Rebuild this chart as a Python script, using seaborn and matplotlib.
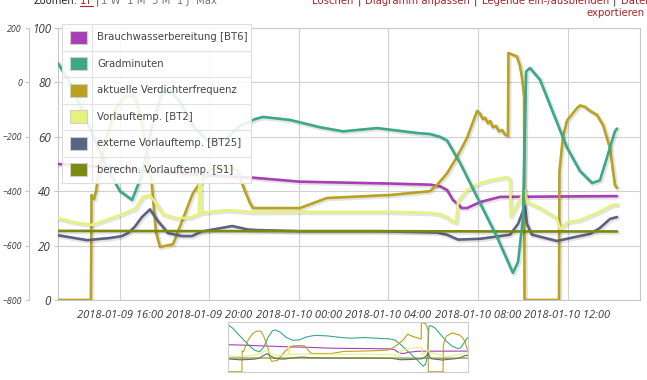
import matplotlib
matplotlib.use("Agg")
import matplotlib.pyplot as plt
import matplotlib.dates as mdates
import matplotlib.patheffects as pe
from matplotlib.patches import Rectangle
import numpy as np
import pandas as pd
import seaborn as sns

# ---------------- data (hours after 2018-01-09 16:00) ----------------
BASE = pd.Timestamp("2018-01-09 16:00")

names = ["Brauchwasserbereitung [BT6]", "Gradminuten", "aktuelle Verdichterfrequenz",
         "Vorlauftemp. [BT2]", "externe Vorlauftemp. [BT25]", "berechn. Vorlauftemp. [S1]"]
colors = ["#a83fb4", "#3aa889", "#b9a21f", "#e6f37a", "#5b6282", "#7a8a12"]

bt6_h = [-2.77, -0.89, 1.34, 3.58, 5.90, 8.04, 12.07, 13.86, 14.30, 14.62, 14.88, 15.28,
         15.51, 16.09, 16.98, 22.21]
bt6_v = [50, 49, 47.5, 46, 45, 43.5, 42.8, 42.4, 41.8, 40.4, 36.8, 33.8, 33.8, 36, 37.9, 38.2]

grad_h = [-2.77, -2.23, -1.34, -0.54, 0.00, 0.54, 0.98, 1.43, 1.88, 2.23, 2.68, 3.35, 4.02,
          4.69, 5.36, 6.03, 6.39, 7.60, 8.94, 9.97, 11.49, 13.27, 13.86, 14.30, 14.62, 15.20,
          16.09, 16.85, 17.56, 17.79, 18.01, 18.15, 18.32, 18.77, 19.98, 20.56, 21.10, 21.45,
          22.12, 22.21]
grad_v = [70, 0, -170, -320, -400, -432, -340, -160, -40, -30, -70, -170, -220,
          -210, -160, -135, -127, -138, -165, -180, -168, -186, -190, -200, -214, -296,
          -443, -568, -700, -660, -500, 40, 53, 10, -240, -326, -370, -360,
          -180, -170]

freq_h = [-2.77, -1.30, -1.27, -1.16, -1.07, -0.98, -0.67, -0.22, 0.22, 0.67, 0.98, 1.34,
          1.43, 1.61, 1.79, 2.37, 2.82, 3.26, 3.58, 4.02, 4.83, 5.23, 5.59, 5.81, 5.94, 8.04,
          9.25, 12.07, 13.85, 14.17, 14.61, 15.06, 15.51, 15.96, 16.09, 16.22, 16.31, 16.45,
          16.54, 16.67, 16.80, 16.94, 17.07, 17.21, 17.34, 17.36, 17.74, 17.88, 17.97, 18.06,
          18.08, 19.62, 19.64, 19.80, 19.98, 20.43, 20.56, 20.78, 21.01, 21.32, 21.59, 21.90,
          22.12, 22.21]
freq_v = [0, 0, 38.6, 37, 40, 45, 58, 70, 75, 75, 65, 47,
          42, 25, 19.5, 20.5, 30, 39.3, 43, 48, 48.5, 47.8, 40, 35.7, 33.8, 33.8,
          37.5, 38.6, 40, 42.3, 46.5, 52.6, 59.6, 69.5, 68.5, 66.5, 67, 65,
          65.8, 63.5, 64, 62, 62.5, 60.8, 60.3, 90.8, 89.5, 86, 81.6, 75,
          0, 0, 47.4, 60, 66, 70.6, 71.5, 71, 69.5, 68, 64.3, 55.9,
          42.3, 41.2]

bt2_h = [-2.77, -2.01, -1.25, 0.00, 0.67, 1.03, 1.34, 1.65, 1.92, 2.55, 3.13, 3.53, 3.55,
         3.60, 3.62, 4.16, 4.78, 5.94, 8.04, 12.07, 13.85, 14.30, 14.61, 14.84, 15.02, 15.11,
         15.51, 16.09, 16.54, 17.30, 17.43, 17.47, 18.10, 18.19, 18.77, 19.53, 19.66, 19.98,
         20.56, 21.32, 22.03, 22.21]
bt2_v = [30, 28.5, 27.6, 31.2, 33.5, 37.9, 38.6, 35, 31.5, 30, 30.3, 31.5, 47,
         47, 32, 32.5, 33, 32.3, 32.4, 32.4, 32, 31.5, 30.4, 29, 28.5, 36.4,
         40.4, 43, 44, 45.2, 44.2, 30.8, 40.4, 36, 33.8, 30, 26, 28.5,
         29.4, 32, 35, 35]

bt25_h = [-2.77, -1.47, -0.45, 0.09, 0.36, 0.67, 0.98, 1.34, 1.70, 2.15, 2.77, 3.22, 3.66,
          4.56, 5.01, 5.72, 6.12, 8.04, 11.62, 14.17, 14.61, 15.11, 16.09, 17.43, 17.79, 18.10,
          18.19, 18.41, 19.53, 20.25, 21.01, 21.45, 21.90, 22.21]
bt25_v = [23.8, 22, 22.8, 23.5, 24.6, 27, 30.5, 33.3, 29, 24.6, 23.5, 23.5, 25.2,
          26.5, 27.2, 25.9, 25.7, 25.3, 25.3, 24.8, 24, 22.2, 22.5, 24, 28, 34.5,
          28, 24, 21.7, 23, 24.3, 26.5, 29.8, 30.5]

s1_h = [-2.77, 5.0, 12.0, 18.0, 22.21]
s1_v = [25.4, 25.3, 25.3, 25.2, 25.2]

y_ticks = [0, 20, 40, 60, 80, 100]
grad_ticks = [-800, -600, -400, -200, 0, 200]
x_start_h, x_end_h = -2.77, 23.24


def frame(h, v, name):
    return pd.DataFrame({"time": BASE + pd.to_timedelta(h, unit="h"), "value": v, "series": name})


series = [frame(bt6_h, bt6_v, names[0]), frame(grad_h, grad_v, names[1]),
          frame(freq_h, freq_v, names[2]), frame(bt2_h, bt2_v, names[3]),
          frame(bt25_h, bt25_v, names[4]), frame(s1_h, s1_v, names[5])]

# ---------------- style ----------------
sns.set_theme(style="white")
plt.rcParams["font.family"] = ["Open Sans", "DejaVu Sans"]

W, H = 647, 380
fig = plt.figure(figsize=(W / 100, H / 100), dpi=100)
fig.patch.set_facecolor("white")

L, R, T, B = 58, 640, 28, 300
ax = fig.add_axes([L / W, 1 - B / H, (R - L) / W, (B - T) / H])
ax2 = ax.twinx()

shadow = [pe.SimpleLineShadow(offset=(0.8, -0.8), alpha=0.12, linewidth=3.2), pe.Normal()]

for i, df in enumerate(series):
    target = ax2 if i == 1 else ax
    sns.lineplot(data=df, x="time", y="value", ax=target, color=colors[i], lw=1.9,
                 estimator=None, sort=False, legend=False, path_effects=shadow, zorder=3 + i)

ax.set_ylim(0, 100)
ax2.set_ylim(-800, 200)
ax.set_xlim(BASE + pd.Timedelta(hours=x_start_h), BASE + pd.Timedelta(hours=x_end_h))
ax.set_yticks(y_ticks)
ax2.set_yticks(grad_ticks)
ax.set_xlabel("")
ax.set_ylabel("")
ax2.set_ylabel("")

ax.xaxis.set_major_locator(mdates.HourLocator(byhour=range(0, 24, 4)))
ax.xaxis.set_major_formatter(mdates.DateFormatter("%Y-%m-%d %H:%M"))

ax.grid(True, color="#d0d0d0", lw=0.8)
for sp in ax.spines.values():
    sp.set_color("#c8c8c8")
    sp.set_linewidth(0.8)
for sp in ax2.spines.values():
    sp.set_visible(False)

ax.tick_params(axis="x", length=0, pad=7, labelsize=8.05, labelcolor="#3a3a3a")
ax.tick_params(axis="y", length=3, width=0.8, color="#c8c8c8", pad=2, labelsize=8.4,
               labelcolor="#3a3a3a", left=True)
for lab in ax.get_xticklabels() + ax.get_yticklabels():
    lab.set_fontstyle("italic")

ax2.yaxis.set_ticks_position("left")
ax2.yaxis.set_label_position("left")
ax2.spines["left"].set_visible(True)
ax2.spines["left"].set_position(("outward", 29 * 72 / 100))
ax2.spines["left"].set_color("#c8c8c8")
ax2.spines["left"].set_linewidth(0.8)
ax2.tick_params(axis="y", length=3, width=0.8, color="#c8c8c8", pad=2, labelsize=6.3,
                labelcolor="#3a3a3a", left=True, right=False, labelleft=True, labelright=False)
for lab in ax2.get_yticklabels():
    lab.set_fontstyle("italic")

# ---------------- navigator ----------------
nav = fig.add_axes([228 / W, 1 - 372 / H, 240 / W, 50 / H])
for i, df in enumerate(series):
    d = df.copy()
    if i == 1:
        d["value"] = (d["value"] - grad_ticks[0]) / (grad_ticks[-1] - grad_ticks[0]) * 100
    sns.lineplot(data=d, x="time", y="value", ax=nav, color=colors[i], lw=0.8,
                 estimator=None, sort=False, legend=False)
nav.set_xlim(BASE + pd.Timedelta(hours=x_start_h + 0.02), BASE + pd.Timedelta(hours=22.21))
nav.set_ylim(-0.5, 92)
nav.set_xticks([])
nav.set_yticks([])
nav.set_xlabel("")
nav.set_ylabel("")
for sp in nav.spines.values():
    sp.set_color("#cccccc")
    sp.set_linewidth(0.8)

# ---------------- overlay: legend + header ----------------
ov = fig.add_axes([0, 0, 1, 1], zorder=20)
ov.set_xlim(0, W)
ov.set_ylim(H, 0)
ov.axis("off")
ov.patch.set_visible(False)

lx0, lx1, ly0, row_h = 62, 251, 24, 26.5
ov.add_patch(Rectangle((lx0, ly0), lx1 - lx0, row_h * 6, fc="white", alpha=0.88,
                       ec="none"))
ov.add_patch(Rectangle((lx0, ly0), lx1 - lx0, row_h * 6, fc="none", ec="#dddddd", lw=0.8))
for k in range(1, 6):
    ov.plot([lx0, lx1], [ly0 + k * row_h] * 2, color="#e2e2e2", lw=0.8)
ov.plot([92, 92], [ly0, ly0 + 6 * row_h], color="#e2e2e2", lw=0.8)
for k, (nm, c) in enumerate(zip(names, colors)):
    cy = ly0 + (k + 0.5) * row_h
    ov.add_patch(Rectangle((70, cy - 6.5), 17, 13, fc=c, ec="#cfcfcf", lw=0.8))
    ov.text(97, cy, nm, fontsize=7.3, color="#444444", va="center", ha="left",
            family="DejaVu Sans")

red = "#a8232a"


def chain(x, y, parts, size=7.3):
    first = ov.text(x, y, parts[0][0], color=parts[0][1], fontsize=size,
                    family="DejaVu Sans", va="bottom", ha="left")
    prev = first
    for s, c, gap in parts[1:]:
        prev = ov.annotate(s, xy=(1, 0), xycoords=prev, xytext=(gap, 0),
                           textcoords="offset points", color=c, fontsize=size,
                           family="DejaVu Sans", va="bottom", ha="left")
    return first


ov.text(33, 6, "Zoomen:", color="#222222", fontsize=7.1, family="DejaVu Sans",
        va="bottom", ha="left")
chain(80, 6, [("1T", red), ("|", "#444444", 2), ("1 W  1 M  3 M  1 J  Max", "#777777", 2)])
ov.plot([80, 93], [5.5, 5.5], color=red, lw=0.8)
chain(312, 6, [("Löschen", red), ("|", "#333333", 3), ("Diagramm anpassen", red, 3),
               ("|", "#333333", 3), ("Legende ein-/ausblenden", red, 3),
               ("|", "#333333", 3), ("Daten", red, 3)])
ov.text(645, 18, "exportieren", color=red, ha="right", fontsize=7.3,
        family="DejaVu Sans", va="bottom")

fig.savefig("out.png", dpi=100)
